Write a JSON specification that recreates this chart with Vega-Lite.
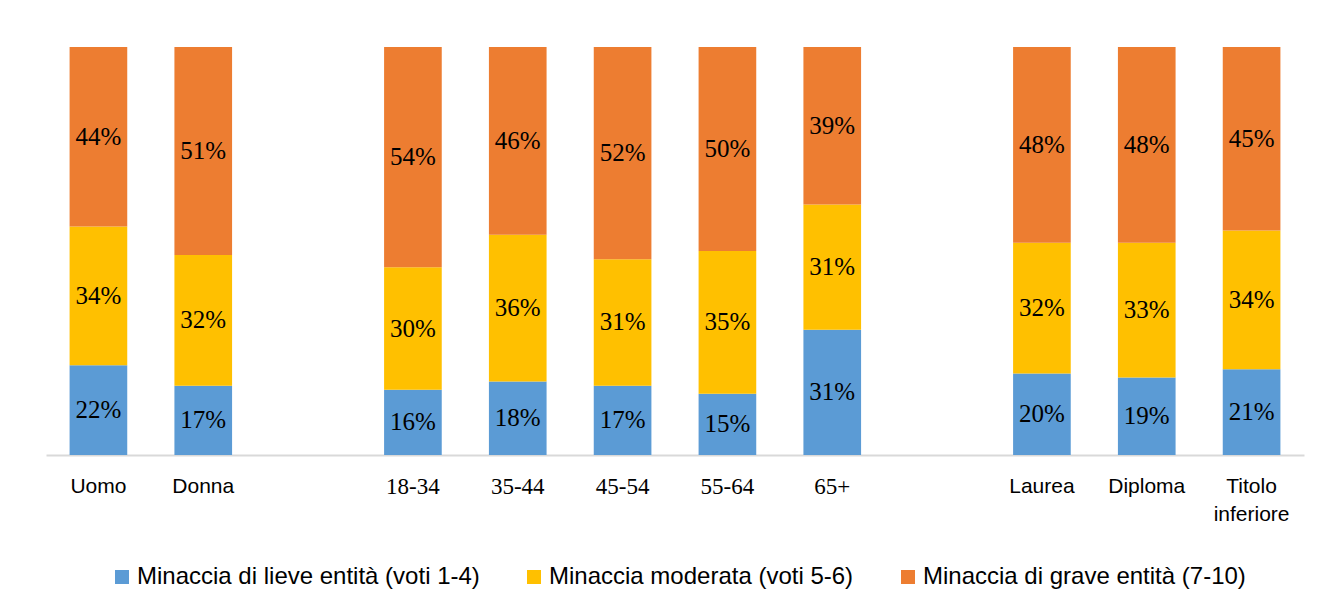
{
  "$schema": "https://vega.github.io/schema/vega-lite/v6.json",
  "width": 1258,
  "height": 408,
  "padding": {"left": 46, "top": 47, "right": 24, "bottom": 10},
  "background": "white",
  "config": {
    "view": {"stroke": null},
    "axis": {"labelFont": "Liberation Sans"},
    "legend": {"labelFont": "Liberation Sans"}
  },
  "data": {
    "values": [
      {"cat": "Uomo", "serie": "Minaccia di lieve entità (voti 1-4)", "ord": 1, "value": 22},
      {"cat": "Uomo", "serie": "Minaccia moderata (voti 5-6)", "ord": 2, "value": 34},
      {"cat": "Uomo", "serie": "Minaccia di grave entità (7-10)", "ord": 3, "value": 44},
      {"cat": "Donna", "serie": "Minaccia di lieve entità (voti 1-4)", "ord": 1, "value": 17},
      {"cat": "Donna", "serie": "Minaccia moderata (voti 5-6)", "ord": 2, "value": 32},
      {"cat": "Donna", "serie": "Minaccia di grave entità (7-10)", "ord": 3, "value": 51},
      {"cat": "18-34", "serie": "Minaccia di lieve entità (voti 1-4)", "ord": 1, "value": 16},
      {"cat": "18-34", "serie": "Minaccia moderata (voti 5-6)", "ord": 2, "value": 30},
      {"cat": "18-34", "serie": "Minaccia di grave entità (7-10)", "ord": 3, "value": 54},
      {"cat": "35-44", "serie": "Minaccia di lieve entità (voti 1-4)", "ord": 1, "value": 18},
      {"cat": "35-44", "serie": "Minaccia moderata (voti 5-6)", "ord": 2, "value": 36},
      {"cat": "35-44", "serie": "Minaccia di grave entità (7-10)", "ord": 3, "value": 46},
      {"cat": "45-54", "serie": "Minaccia di lieve entità (voti 1-4)", "ord": 1, "value": 17},
      {"cat": "45-54", "serie": "Minaccia moderata (voti 5-6)", "ord": 2, "value": 31},
      {"cat": "45-54", "serie": "Minaccia di grave entità (7-10)", "ord": 3, "value": 52},
      {"cat": "55-64", "serie": "Minaccia di lieve entità (voti 1-4)", "ord": 1, "value": 15},
      {"cat": "55-64", "serie": "Minaccia moderata (voti 5-6)", "ord": 2, "value": 35},
      {"cat": "55-64", "serie": "Minaccia di grave entità (7-10)", "ord": 3, "value": 50},
      {"cat": "65+", "serie": "Minaccia di lieve entità (voti 1-4)", "ord": 1, "value": 31},
      {"cat": "65+", "serie": "Minaccia moderata (voti 5-6)", "ord": 2, "value": 31},
      {"cat": "65+", "serie": "Minaccia di grave entità (7-10)", "ord": 3, "value": 39},
      {"cat": "Laurea", "serie": "Minaccia di lieve entità (voti 1-4)", "ord": 1, "value": 20},
      {"cat": "Laurea", "serie": "Minaccia moderata (voti 5-6)", "ord": 2, "value": 32},
      {"cat": "Laurea", "serie": "Minaccia di grave entità (7-10)", "ord": 3, "value": 48},
      {"cat": "Diploma", "serie": "Minaccia di lieve entità (voti 1-4)", "ord": 1, "value": 19},
      {"cat": "Diploma", "serie": "Minaccia moderata (voti 5-6)", "ord": 2, "value": 33},
      {"cat": "Diploma", "serie": "Minaccia di grave entità (7-10)", "ord": 3, "value": 48},
      {"cat": "Titolo inferiore", "serie": "Minaccia di lieve entità (voti 1-4)", "ord": 1, "value": 21},
      {"cat": "Titolo inferiore", "serie": "Minaccia moderata (voti 5-6)", "ord": 2, "value": 34},
      {"cat": "Titolo inferiore", "serie": "Minaccia di grave entità (7-10)", "ord": 3, "value": 45}
    ]
  },
  "transform": [
    {"stack": "value", "groupby": ["cat"], "sort": [{"field": "ord"}], "as": ["y0", "y1"], "offset": "normalize"},
    {"calculate": "(datum.y0 + datum.y1) / 2", "as": "ymid"},
    {"calculate": "datum.value + '%'", "as": "lab"}
  ],
  "encoding": {
    "x": {
      "field": "cat",
      "type": "nominal",
      "scale": {
        "domain": ["Uomo", "Donna", "gap1", "18-34", "35-44", "45-54", "55-64", "65+", "gap2", "Laurea", "Diploma", "Titolo inferiore"],
        "paddingInner": 0.45,
        "paddingOuter": 0.225
      },
      "axis": {
        "title": null,
        "labelAngle": 0,
        "ticks": false,
        "tickSize": 0,
        "domainColor": "#d9d9d9",
        "domainWidth": 2,
        "labelFontSize": {"condition": {"test": "indexof(datum.value, '-') > 0 || datum.value == '65+'", "value": 23}, "value": 21},
        "labelFont": {"condition": {"test": "indexof(datum.value, '-') > 0 || datum.value == '65+'", "value": "Liberation Serif"}, "value": "Liberation Sans"},
        "labelColor": "#000000",
        "labelPadding": 20,
        "labelLineHeight": 28,
        "labelExpr": "datum.value == 'Titolo inferiore' ? ['Titolo', 'inferiore'] : (indexof(datum.value, 'gap') == 0 ? '' : datum.value)"
      }
    }
  },
  "layer": [
    {
      "mark": {"type": "bar"},
      "encoding": {
        "y": {"field": "y0", "type": "quantitative", "scale": {"domain": [0, 1]}, "axis": null},
        "y2": {"field": "y1"},
        "color": {
          "field": "serie",
          "type": "nominal",
          "sort": ["Minaccia di lieve entità (voti 1-4)", "Minaccia moderata (voti 5-6)", "Minaccia di grave entità (7-10)"],
          "scale": {
            "domain": ["Minaccia di lieve entità (voti 1-4)", "Minaccia moderata (voti 5-6)", "Minaccia di grave entità (7-10)"],
            "range": ["#5B9BD5", "#FFC000", "#ED7D31"]
          },
          "legend": {
            "title": null,
            "orient": "none",
            "direction": "horizontal",
            "legendX": 64,
            "legendY": 518,
            "symbolType": "square",
            "symbolSize": 196,
            "symbolStrokeWidth": 0,
            "labelFontSize": 24,
            "labelColor": "#000000",
            "labelOffset": 3,
            "columnPadding": 42,
            "labelLimit": 600,
            "padding": 0
          }
        }
      }
    },
    {
      "mark": {"type": "text", "font": "Liberation Serif", "fontSize": 25, "color": "#000000", "baseline": "middle"},
      "encoding": {
        "y": {"field": "ymid", "type": "quantitative", "scale": {"domain": [0, 1]}},
        "text": {"field": "lab"}
      }
    }
  ]
}
